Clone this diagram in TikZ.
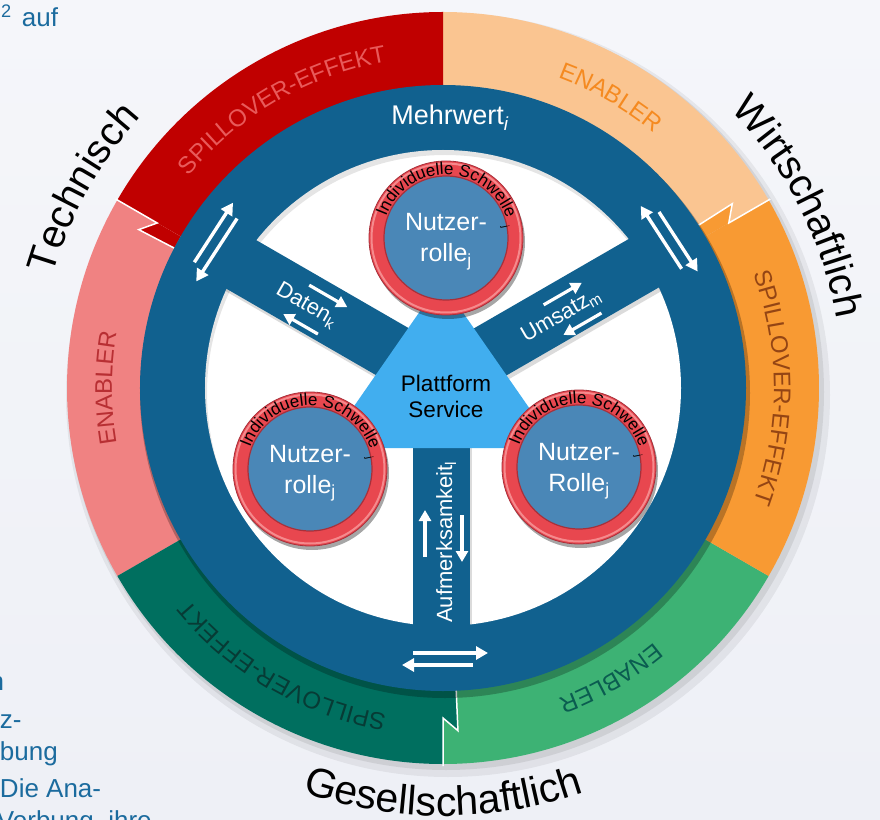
\documentclass[tikz,border=0pt]{standalone}
\usepackage{fontspec}
\setmainfont{Liberation Sans}
\usetikzlibrary{decorations.text,arrows.meta,shadows}
\definecolor{bgtop}{HTML}{F5F6FA}
\definecolor{bgbot}{HTML}{EEF0F6}
\definecolor{ringblue}{HTML}{11618F}
\definecolor{segred}{HTML}{C00000}
\definecolor{segpeach}{HTML}{FAC591}
\definecolor{segorange}{HTML}{F89A33}
\definecolor{seggreen}{HTML}{3DB274}
\definecolor{segteal}{HTML}{006F5F}
\definecolor{segpink}{HTML}{F08282}
\definecolor{txred}{HTML}{E85A5A}
\definecolor{txpeach}{HTML}{F58A20}
\definecolor{txorange}{HTML}{944514}
\definecolor{txgreen}{HTML}{0A5C50}
\definecolor{txteal}{HTML}{073B35}
\definecolor{txpink}{HTML}{B82F33}
\definecolor{platblue}{HTML}{41AEEF}
\definecolor{userblue}{HTML}{4A87B7}
\definecolor{ringred}{HTML}{E8474F}
\definecolor{ringhi}{HTML}{F58A8D}
\definecolor{ringdark}{HTML}{A8303A}
\definecolor{slidetext}{HTML}{1B6B9E}
\begin{document}
\begin{tikzpicture}[x=1pt,y=1pt,
  every node/.style={inner sep=0pt,outer sep=0pt},
  slidetxt/.style={text=slidetext,font=\fontsize{26}{31}\selectfont},
  ringarrow/.style={white,line width=3.4pt,-{Triangle[length=12pt,width=13pt]}},
  spokearrow/.style={white,line width=3.2pt,-{Triangle[length=11pt,width=12pt]}},
  spoketxt/.style={text=white,font=\fontsize{22}{22}\selectfont},
  usertxt/.style={text=white,font=\fontsize{25}{25}\selectfont},
  userring/.style={circle,minimum size=154pt,fill=ringred,draw=ringdark,line width=.8pt,
    drop shadow={shadow xshift=2pt,shadow yshift=-4pt,opacity=.35,fill=black}},
  userdisk/.style={circle,minimum size=124pt,fill=userblue,draw=ringdark,line width=1.2pt},
  seglabel/.style={decorate,decoration={text along path,text align=center,text color=#1,
    text={|\fontsize{24}{24}\selectfont|SPILLOVER-EFFEKT}}},
  enablabel/.style={decorate,decoration={text along path,text align=center,text color=#1,
    text={|\fontsize{24}{24}\selectfont|ENABLER}}},
]
\useasboundingbox (-443,-431) rectangle (437,388);
\clip (-443,-431) rectangle (437,388);
\shade[top color=bgtop,bottom color=bgbot] (-443,-431) rectangle (437,388);

% slide text fragments
\node[slidetxt,anchor=base east] (s0) at (-385,361) {m\textsuperscript{2}\hspace{3pt} auf};
\node[slidetxt,anchor=base east] (s1) at (-439,-302) {n};
\node[slidetxt,anchor=base west] (s2) at (-443,-340) {z-};
\node[slidetxt,anchor=base west] (s3) at (-443,-372) {bung};
\node[slidetxt,anchor=base west] (s4) at (-443,-409) {Die Ana-};
\node[slidetxt,anchor=base west] (s5) at (-446,-441) {Verbung, ihre};

% outer ring shadow
\fill[black,opacity=.06] (5,-7) circle (382);
\fill[black,opacity=.08] (3,-4) circle (378);

% segments
\def\R{376}
\fill[segpeach] (0,0) -- (30:\R) arc[start angle=30,end angle=90,radius=\R] -- cycle;
\fill[segred] (0,0) -- (90:\R) arc[start angle=90,end angle=150,radius=\R] -- cycle;
\fill[segpink] (0,0) -- (150:\R) arc[start angle=150,end angle=210,radius=\R] -- cycle;
\fill[segteal] (0,0) -- (210:\R) arc[start angle=210,end angle=270,radius=\R] -- cycle;
\fill[seggreen] (0,0) -- (270:\R) arc[start angle=270,end angle=330,radius=\R] -- cycle;
\fill[segorange] (0,0) -- (-30:\R) arc[start angle=-30,end angle=30,radius=\R] -- cycle;
% zig-zag breaks
\fill[segorange] (30:330) -- (32.5:343) -- (32.5:303) -- (30:303) -- cycle;
\fill[segteal] (270:330) -- (272.5:343) -- (272.5:303) -- (270:303) -- cycle;
\fill[segred] (150:330) -- (152.5:343) -- (152.5:303) -- (150:303) -- cycle;
\draw[white,line width=1.5pt,line join=miter] (30:378) -- (30:330) -- (32.5:343) -- (32.5:300);
\draw[white,line width=1.5pt,line join=miter] (270:378) -- (270:330) -- (272.5:343) -- (272.5:300);
\draw[white,line width=1.5pt,line join=miter] (150:378) -- (150:330) -- (152.5:343) -- (152.5:300);

% segment labels
\path[seglabel=txred] (150:331) arc[start angle=150,end angle=90,radius=331];
\path[seglabel=txorange] (30:331) arc[start angle=30,end angle=-30,radius=331];
\path[seglabel=txteal] (-90:331) arc[start angle=-90,end angle=-150,radius=331];
\path[enablabel=txpeach] (90:331) arc[start angle=90,end angle=30,radius=331];
\path[enablabel=txgreen] (-30:331) arc[start angle=-30,end angle=-90,radius=331];
\path[enablabel=txpink] (210:331) arc[start angle=210,end angle=150,radius=331];

% blue ring
\fill[black,opacity=.25] (2,-5) circle (305);
\fill[ringblue] (0,0) circle (303);
\fill[white] (0,0) circle (238);
\begin{scope}
  \clip (0,0) circle (238);
  \draw[black,opacity=.10,line width=10pt] (2,-5) circle (243);
  \begin{scope}[shift={(0.5,4)}]
    \fill[black,opacity=.14,rotate=150] (0,-28.5) rectangle (290,28.5);
    \fill[black,opacity=.14,rotate=30] (0,-28.5) rectangle (290,28.5);
    \fill[black,opacity=.14,rotate=-90] (0,-28.5) rectangle (290,28.5);
  \end{scope}
\end{scope}
% spokes
\begin{scope}[shift={(-1.5,8)}]
  \fill[ringblue,rotate=150] (0,-28.5) rectangle (290,28.5);
  \fill[ringblue,rotate=30] (0,-28.5) rectangle (290,28.5);
  \fill[ringblue,rotate=-90] (0,-28.5) rectangle (290,28.5);
\end{scope}

% platform triangle
\fill[platblue,rounded corners=6pt] (-2,107) -- (114,-60) -- (-118,-60) -- cycle;
\node[align=center,font=\fontsize{22.5}{26}\selectfont] (plat) at (3,-8) {Plattform\\Service};

% ring labels and arrows
\node[text=white,font=\fontsize{27}{27}\selectfont,anchor=base] (mw) at (7,263) {Mehrwert\textsubscript{\itshape i}};
\foreach \r in {0,-123,123}{
  \begin{scope}[rotate=\r]
    \draw[ringarrow] (-30,-265) -- (45,-265);
    \draw[ringarrow] (30,-277) -- (-41,-277);
  \end{scope}
}
\begin{scope}[shift={(-1.5,8)},rotate=-30]
  \node[spoketxt,rotate=-30] (dat) at (-154,-3) {Daten\textsubscript{k}};
  \draw[spokearrow] (-162,16) -- (-118,16);
  \draw[spokearrow] (-130,-22) -- (-170,-22);
\end{scope}
\begin{scope}[shift={(-1.5,8)},rotate=30]
  \node[spoketxt,rotate=30] (ums) at (136,-4) {Umsatz\textsubscript{m}};
  \draw[spokearrow] (126,14) -- (170,14);
  \draw[spokearrow] (172,-22) -- (128,-22);
\end{scope}
\node[spoketxt,rotate=90,anchor=base] (aufm) at (9,-154) {Aufmerksamkeit\textsubscript{l}};
\draw[spokearrow] (-18,-169) -- (-18,-122);
\draw[spokearrow] (19,-127) -- (19,-174);

% user circles
\foreach \cx/\cy/\nm/\second in {3/150/top/{rolle\textsubscript{j}},-133/-81/left/{rolle\textsubscript{j}},136/-79/right/{Rolle\textsubscript{j}}}{
  \node[userring] (ring\nm) at (\cx,\cy) {};
  \draw[ringhi,line width=2pt] (\cx,\cy) circle (74.5);
  \node[userdisk] (disk\nm) at (\cx,\cy) {};
  \begin{scope}[shift={(\cx,\cy)}]
    \path[decorate,decoration={text along path,text align=center,
      text={|\fontsize{17}{17}\selectfont|Individuelle Schwelle}}]
      (176:63.5) arc[start angle=176,end angle=2,radius=63.5];
    \node[font=\fontsize{10}{10}\selectfont,rotate=-78] (j\nm) at (11:60) {j};
    \node[usertxt,anchor=base] (na\nm) at (0,7) {Nutzer-};
    \node[usertxt,anchor=base] (nb\nm) at (0,-24) {\second};
  \end{scope}
}

% outer category labels
\path[decorate,decoration={text along path,text align=center,
  text={|\fontsize{40}{40}\selectfont|Technisch}}] (181:406) arc[start angle=181,end angle=121,radius=406];
\path[decorate,decoration={text along path,text align=center,
  text={|\fontsize{40}{40}\selectfont|Wirtschaftlich}}] (57:400) arc[start angle=57,end angle=-3,radius=400];
\path[decorate,decoration={text along path,text align=center,
  text={|\fontsize{41}{41}\selectfont|Gesellschaftlich}}] (245:428) arc[start angle=245,end angle=295,radius=428];
\end{tikzpicture}
\end{document}
